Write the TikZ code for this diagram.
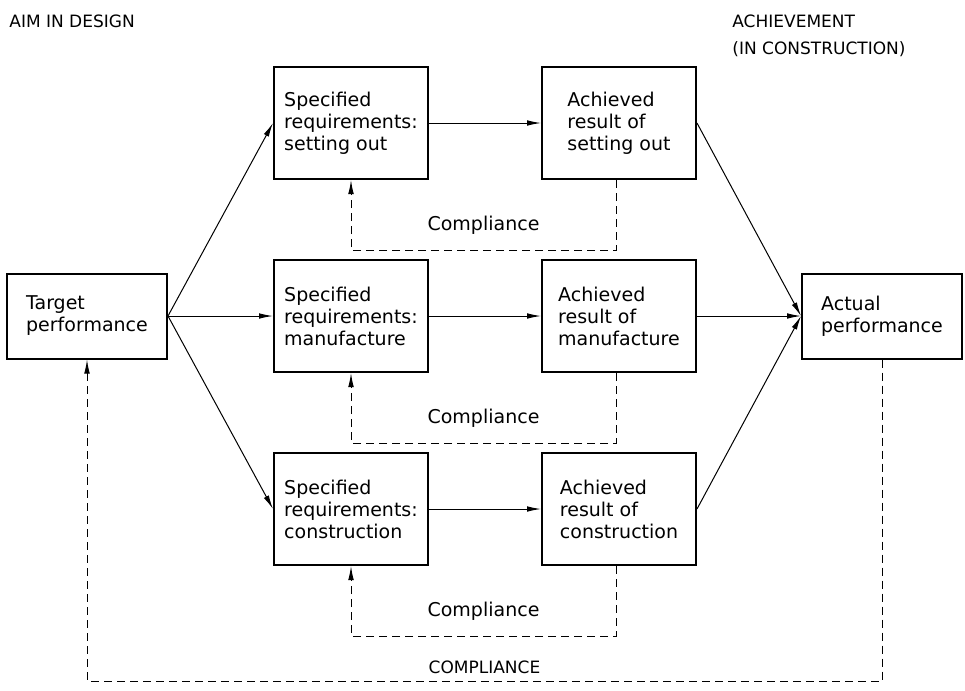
\documentclass[tikz,border=0pt]{standalone}
\usepackage{fontspec}
\setmainfont{DejaVu Sans}
\usetikzlibrary{arrows.meta}

\begin{document}
\begin{tikzpicture}[x=0.5pt, y=-0.5pt, >={Latex[length=7pt,width=2.8pt]},
    block/.style={draw, line width=1pt, align=left, minimum width=77pt, minimum height=56pt, font=\fontsize{9.5}{11}\selectfont},
    endblock/.style={block, minimum width=80pt, minimum height=42.5pt},
    flow/.style={line width=0.5pt, ->},
    check/.style={line width=0.5pt, dash pattern=on 4pt off 2.5pt, ->},
    caps/.style={font=\fontsize{8.5}{13.5}\selectfont}]
    \useasboundingbox (0,0) rectangle (965,691);

    % Headings
    \node[caps, anchor=base west, inner sep=0] (aim) at (9,27) {AIM IN DESIGN};
    \node[caps, anchor=north west, inner sep=0, align=left] (achieve) at (732,14) {ACHIEVEMENT\\(IN CONSTRUCTION)};

    % Start and end of the chain
    \node[endblock] (target) at (87,316) {Target\\performance};
    \node[endblock] (actual) at (882,316) {Actual\\performance};

    % The three parallel chains with their compliance loops
    \foreach \n/\y/\what in {set/123/setting out, man/316/manufacture, con/509/construction} {
        \node[block] (spec\n) at (351,\y) {Specified\\requirements:\\\what};
        \node[block] (ach\n) at (619,\y) {Achieved\\result of\\\what};
        \draw[flow] (target.east) -- (spec\n.west);
        \draw[flow] (spec\n.east) -- (ach\n.west);
        \draw[flow] (ach\n.east) -- (actual.west);
        \draw[check] ([xshift=-1.5pt]ach\n.south) -- ++(0,70) -| node[pos=0.25, yshift=12.5pt, font=\fontsize{9.5}{11}\selectfont] {Compliance} (spec\n.south);
    }

    % Overall compliance
    \coordinate (low) at (0,681);
    \draw[check] (actual.south) -- (actual.south |- low) -- node[midway, yshift=7pt, caps] {COMPLIANCE} (target.south |- low) -- (target.south);
\end{tikzpicture}
\end{document}
